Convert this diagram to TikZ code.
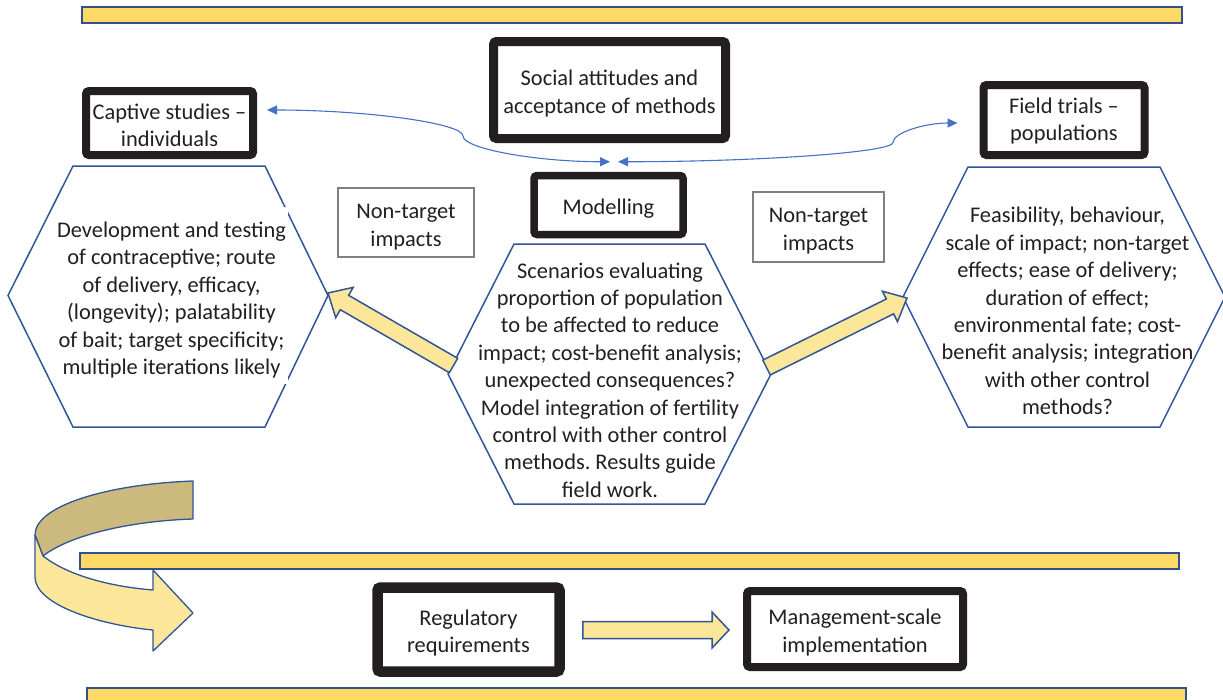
\documentclass[tikz,border=0pt]{standalone}
\usepackage{fontspec}
\setmainfont{Carlito}
\usetikzlibrary{calc,arrows.meta}
\frenchspacing

\definecolor{ink}{HTML}{231F20}
\definecolor{bandfill}{HTML}{FFD966}
\definecolor{bandline}{HTML}{2F528F}
\definecolor{hexline}{HTML}{2F5597}
\definecolor{arrowfill}{HTML}{FCE699}
\definecolor{ribbondark}{HTML}{CCB97D}
\definecolor{linkblue}{HTML}{4472C4}
\definecolor{thinbox}{HTML}{808080}

\tikzset{
  txt/.style={font=\fontsize{22.4pt}{27.4pt}\selectfont\frenchspacing, text=ink, align=center, inner sep=0pt},
  heavybox/.style={draw=ink, line width=8pt, rounded corners=3pt, fill=white, inner sep=0pt},
  lightbox/.style={draw=thinbox, line width=1.1pt, fill=white, inner sep=0pt},
  band/.style={draw=bandline, line width=1.6pt, fill=bandfill},
  hexa/.style={draw=hexline, line width=1.5pt},
  barrow/.style={draw=hexline, line width=1.5pt, fill=arrowfill, line join=miter},
  ribbon/.style={draw=hexline, line width=1.3pt, line join=round},
  link/.style={draw=linkblue, line width=1.1pt,
    {Triangle[length=10pt,width=9pt]}-{Triangle[length=10pt,width=9pt]}},
}

% block arrow from #1 to #2: shaft half width #3, head half width #4, head length #5
\newcommand\blockarrow[5]{%
  \path let \p1=($(#2)-(#1)$), \n1={atan2(\y1,\x1)}, \n2={veclen(\x1,\y1)} in
    \pgfextra{\xdef\barAng{\n1}\xdef\barLen{\n2}};
  \begin{scope}[shift={(#1)}, rotate=\barAng]
    \draw[barrow] (0,-#3) -- ({\barLen-#5},-#3) -- ({\barLen-#5},-#4) -- (\barLen,0)
      -- ({\barLen-#5},#4) -- ({\barLen-#5},#3) -- (0,#3) -- cycle;
  \end{scope}}

\begin{document}
\begin{tikzpicture}[x=1pt,y=-1pt]
\useasboundingbox (0,0) rectangle (1223,699);
\clip (0,0) rectangle (1223,699);

% horizontal bands
\draw[band] (82,7) rectangle (1182,23);
\draw[band] (80,553) rectangle (1179,569);
\draw[band] (87,688) rectangle (1186,712);

% hexagons
\draw[hexa] (73,166) -- (265,166) -- (328,295.5) coordinate (hL-e) -- (265,427)
  -- (73,427) -- (8,295.5) -- cycle;
\draw[hexa] (514,244) -- (705,244) -- (771,374) coordinate (hC-e) -- (705,504)
  -- (514,504) -- (448,374) coordinate (hC-w) -- cycle;
\draw[hexa] (968,167) -- (1160,167) -- (1225,297) -- (1160,427)
  -- (968,427) -- (903,297) coordinate (hR-w) -- cycle;

% hexagon texts (the left one sits on a white text frame)
\fill[white] (55,207) rectangle (288,384);
\node[txt] (capTxt) at (171.5,300)
  {Development and testing\\of contraceptive; route\\of delivery, efficacy,\\(longevity); palatability\\of bait; target specificity;\\multiple iterations likely};
\node[txt] (modTxt) at (610,380)
  {Scenarios evaluating\\proportion of population\\to be affected to reduce\\impact; cost-benefit analysis;\\unexpected consequences?\\Model integration of fertility\\control with other control\\methods. Results guide\\field work.};
\node[txt] (fieldTxt) at (1067.5,311)
  {Feasibility, behaviour,\\scale of impact; non-target\\effects; ease of delivery;\\duration of effect;\\environmental fate; cost-\\benefit analysis; integration\\with other control\\methods?};

% framed labels
\node[heavybox, minimum width=167pt, minimum height=64pt] (captive) at (169.5,123) {};
\node[heavybox, line width=9pt, minimum width=232pt, minimum height=97pt] (social) at (609.5,90) {};
\node[heavybox, line width=7.5pt, minimum width=149pt, minimum height=59pt] (model) at (608.5,205) {};
\node[heavybox, minimum width=161pt, minimum height=70pt] (field) at (1064,120) {};
\node[heavybox, line width=10.5pt, minimum width=182pt, minimum height=84pt] (reg) at (468.5,629.5) {};
\node[heavybox, minimum width=216pt, minimum height=76pt] (mgmt) at (855,629) {};
\node[lightbox, minimum width=136pt, minimum height=69pt] (ntL) at (406,222.5) {};
\node[lightbox, minimum width=131pt, minimum height=70pt] (ntR) at (818.5,227) {};

\node[txt] (captiveTxt) at ($(captive)+(0,2.5)$) {Captive studies –\\individuals};
\node[txt] (socialTxt) at ($(social)+(0,3.5)$) {Social attitudes and\\acceptance of methods};
\node[txt] (modelTxt) at ($(model)+(0,3.5)$) {Modelling};
\node[txt] (fieldHead) at ($(field)+(0,1)$) {Field trials –\\populations};
\node[txt] (regTxt) at ($(reg)+(0,3.5)$) {Regulatory\\requirements};
\node[txt] (mgmtTxt) at ($(mgmt)+(0,3.5)$) {Management-scale\\implementation};
\node[txt] (ntLTxt) at ($(ntL)+(0,4.5)$) {Non-target\\impacts};
\node[txt] (ntRTxt) at ($(ntR)+(0,4)$) {Non-target\\impacts};

% block arrows
\coordinate (laTail) at ($(hC-w)+(5.5,-8.5)$);
\coordinate (laTip) at ($(hL-e)+(0,-2.5)$);
\blockarrow{laTail}{laTip}{8.3}{17.5}{19}
\coordinate (raTail) at ($(hC-e)+(-4.5,-6.5)$);
\coordinate (raTip) at ($(hR-w)+(4,1)$);
\blockarrow{raTail}{raTip}{8.3}{17}{19}
\coordinate (baTail) at ($(reg.east)+(18,0.5)$);
\coordinate (baTip) at ($(mgmt.west)+(-14,1)$);
\blockarrow{baTail}{baTip}{8.5}{18}{17}

% curved two-headed links
\coordinate (capR) at ($(captive.east)+(10,-13)$);
\coordinate (modL) at ($(model.north)+(1.5,-10)$);
\coordinate (modR) at ($(model.north)+(9.5,-10)$);
\coordinate (fieldL) at ($(field.west)+(-22,3)$);
\draw[link] (capR) .. controls +(98,0) and +(0,-13) .. (463,136)
  .. controls +(0,13) and +(-72,0) .. (modL);
\draw[link] (modR) .. controls +(137,0) and +(0,10) .. (893,142.5)
  .. controls +(0,-10) and +(-32,0) .. (fieldL);

% U-turn ribbon arrow
\draw[ribbon, fill=ribbondark] (193,481) -- (193,519) .. controls (130,521) and (70,535) .. (43,556)
  -- (35,535) .. controls (35,505) and (110,484) .. (193,481) -- cycle;
\draw[ribbon, fill=arrowfill] (35,535) -- (43,556) .. controls (70,577) and (115,587) .. (153,590)
  -- (153,570) -- (193,613) -- (153,651) -- (153,630)
  .. controls (100,625) and (35,605) .. (35,577) -- cycle;
\end{tikzpicture}
\end{document}
